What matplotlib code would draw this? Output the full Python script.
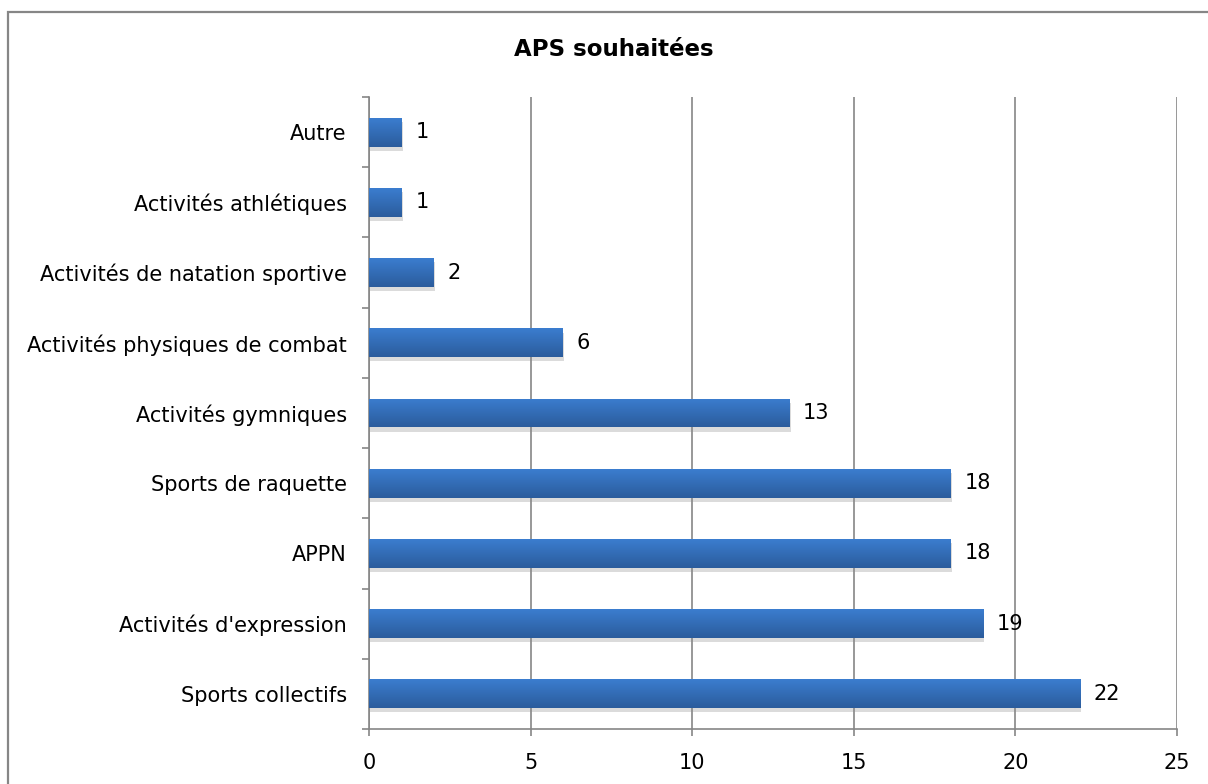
import numpy as np
import matplotlib
import matplotlib.pyplot as plt
from matplotlib.patches import Rectangle
import matplotlib.patheffects as pe

matplotlib.use('Agg')

categories = ["Sports collectifs", "Activités d'expression", "APPN", "Sports de raquette",
              "Activités gymniques", "Activités physiques de combat",
              "Activités de natation sportive", "Activités athlétiques", "Autre"]
values = [22, 19, 18, 18, 13, 6, 2, 1, 1]
xticks = [0, 5, 10, 15, 20, 25]

plt.rcParams['font.family'] = ['DejaVu Sans']
grey = '#868686'

fig = plt.figure(figsize=(12.08, 7.84), dpi=100)
ax = fig.add_axes([369 / 1208, 1 - 729 / 784, (1177 - 369) / 1208, (729 - 97) / 784])

y = np.arange(len(categories))
bars = ax.barh(y, values, height=0.41, color='#3568b0', zorder=3,
               path_effects=[pe.SimplePatchShadow(offset=(1, -3), shadow_rgbFace='#8a8a8a', alpha=0.3),
                             pe.Normal()])

# vertical gradient inside each bar
grad = np.linspace(0, 1, 64).reshape(-1, 1)
cmap = matplotlib.colors.LinearSegmentedColormap.from_list('bar', ['#2b5c9c', '#3b7dcf'])
for b in bars:
    x0, y0, w, h = b.get_x(), b.get_y(), b.get_width(), b.get_height()
    im = ax.imshow(grad, cmap=cmap, extent=[x0, x0 + w, y0, y0 + h], aspect='auto',
                   origin='lower', zorder=4)
    im.set_clip_path(b)

for yi, v in zip(y, values):
    ax.annotate(str(v), (v, yi), xytext=(10, 0), textcoords='offset points',
                va='center', ha='left', fontsize=15, color='black')

ax.set_xlim(0, 25)
ax.set_ylim(-0.5, len(categories) - 0.5)
ax.set_xticks(xticks)
ax.set_yticks(y)
ax.set_yticklabels(categories, fontsize=15)
ax.set_yticks(np.arange(-0.5, len(categories)), minor=True)
ax.tick_params(axis='y', which='major', length=0, pad=16)
ax.tick_params(axis='y', which='minor', length=5, width=1.2, color=grey, direction='out')
ax.tick_params(axis='x', length=5, width=1.2, color=grey, pad=12, labelsize=15)

ax.grid(True, axis='x', color=grey, linewidth=1.2, zorder=0)
ax.set_axisbelow(True)
for s in ['top', 'right']:
    ax.spines[s].set_visible(False)
for s in ['left', 'bottom']:
    ax.spines[s].set_color(grey)
    ax.spines[s].set_linewidth(1.2)

fig.text(614 / 1208, 1 - 50 / 784, "APS souhaitées", ha='center', va='center',
         fontsize=16.5, fontweight='bold')

fig.patches.append(Rectangle((8 / 1208, -0.1), 1.2, 1 - 12 / 784 + 0.1,
                             transform=fig.transFigure, fill=False,
                             edgecolor=grey, linewidth=1.6))

plt.savefig("out.png", dpi=100)
